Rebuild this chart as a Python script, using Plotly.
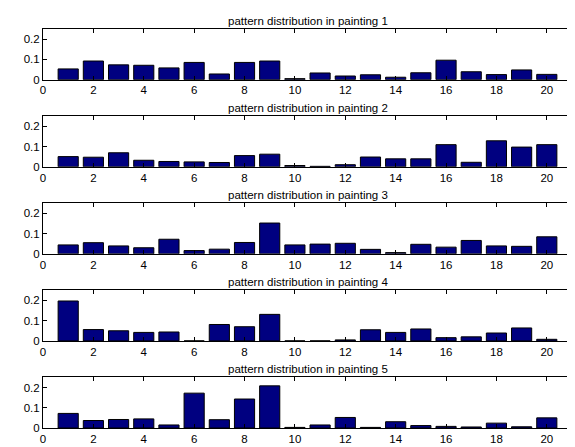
import plotly.graph_objects as go
from plotly.subplots import make_subplots

patterns = list(range(1, 21))
titles = ["pattern distribution in painting %d" % i for i in range(1, 6)]

painting1 = [0.053, 0.092, 0.073, 0.071, 0.058, 0.085, 0.028, 0.085, 0.092, 0.005,
             0.033, 0.018, 0.024, 0.012, 0.034, 0.096, 0.039, 0.025, 0.048, 0.026]
painting2 = [0.050, 0.047, 0.069, 0.032, 0.026, 0.024, 0.021, 0.055, 0.062, 0.006,
             0.002, 0.010, 0.048, 0.039, 0.039, 0.109, 0.022, 0.128, 0.097, 0.109]
painting3 = [0.044, 0.055, 0.039, 0.030, 0.072, 0.016, 0.023, 0.056, 0.152, 0.044,
             0.048, 0.052, 0.022, 0.006, 0.047, 0.033, 0.066, 0.039, 0.037, 0.084]
painting4 = [0.197, 0.056, 0.050, 0.042, 0.044, 0.0, 0.081, 0.070, 0.131, 0.0,
             0.0, 0.005, 0.055, 0.042, 0.059, 0.016, 0.020, 0.039, 0.064, 0.008]
painting5 = [0.072, 0.037, 0.042, 0.045, 0.015, 0.172, 0.041, 0.143, 0.208, 0.003,
             0.015, 0.052, 0.003, 0.031, 0.012, 0.008, 0.005, 0.024, 0.006, 0.050]

x_ticks = [0, 2, 4, 6, 8, 10, 12, 14, 16, 18, 20]
y_ticks = [0, 0.1, 0.2]
y_tick_labels = ["0", "0.1", "0.2"]

series = [painting1, painting2, painting3, painting4, painting5]

FONT = "Liberation Sans, Arial, sans-serif"

fig = make_subplots(rows=5, cols=1, subplot_titles=titles, vertical_spacing=0.0913)

for i, vals in enumerate(series, start=1):
    fig.add_trace(go.Bar(x=patterns, y=vals, width=0.8,
                         marker=dict(color="#000080", line=dict(color="black", width=1)),
                         showlegend=False), row=i, col=1)
    fig.update_xaxes(range=[0, 21], tickvals=x_ticks, ticks="inside", ticklen=4,
                     showline=True, mirror="ticks", linecolor="black", linewidth=1,
                     tickcolor="black",
                     showgrid=False, zeroline=False,
                     tickfont=dict(size=11.5, color="black", family=FONT),
                     row=i, col=1)
    fig.update_yaxes(range=[0, 0.25], tickvals=y_ticks, ticktext=y_tick_labels,
                     ticks="inside", ticklen=4,
                     showline=True, mirror="ticks", linecolor="black", linewidth=1,
                     tickcolor="black",
                     showgrid=False, zeroline=False,
                     tickfont=dict(size=11.5, color="black", family=FONT),
                     row=i, col=1)

for ann in fig.layout.annotations:
    ann.font = dict(size=11.5, color="black", family=FONT)

fig.update_layout(width=575, height=447,
                  margin=dict(l=35, r=10, t=21, b=20),
                  plot_bgcolor="white", paper_bgcolor="white",
                  bargap=0.2,
                  font=dict(family=FONT, size=11.5, color="black"))

fig.write_html("out.html")
